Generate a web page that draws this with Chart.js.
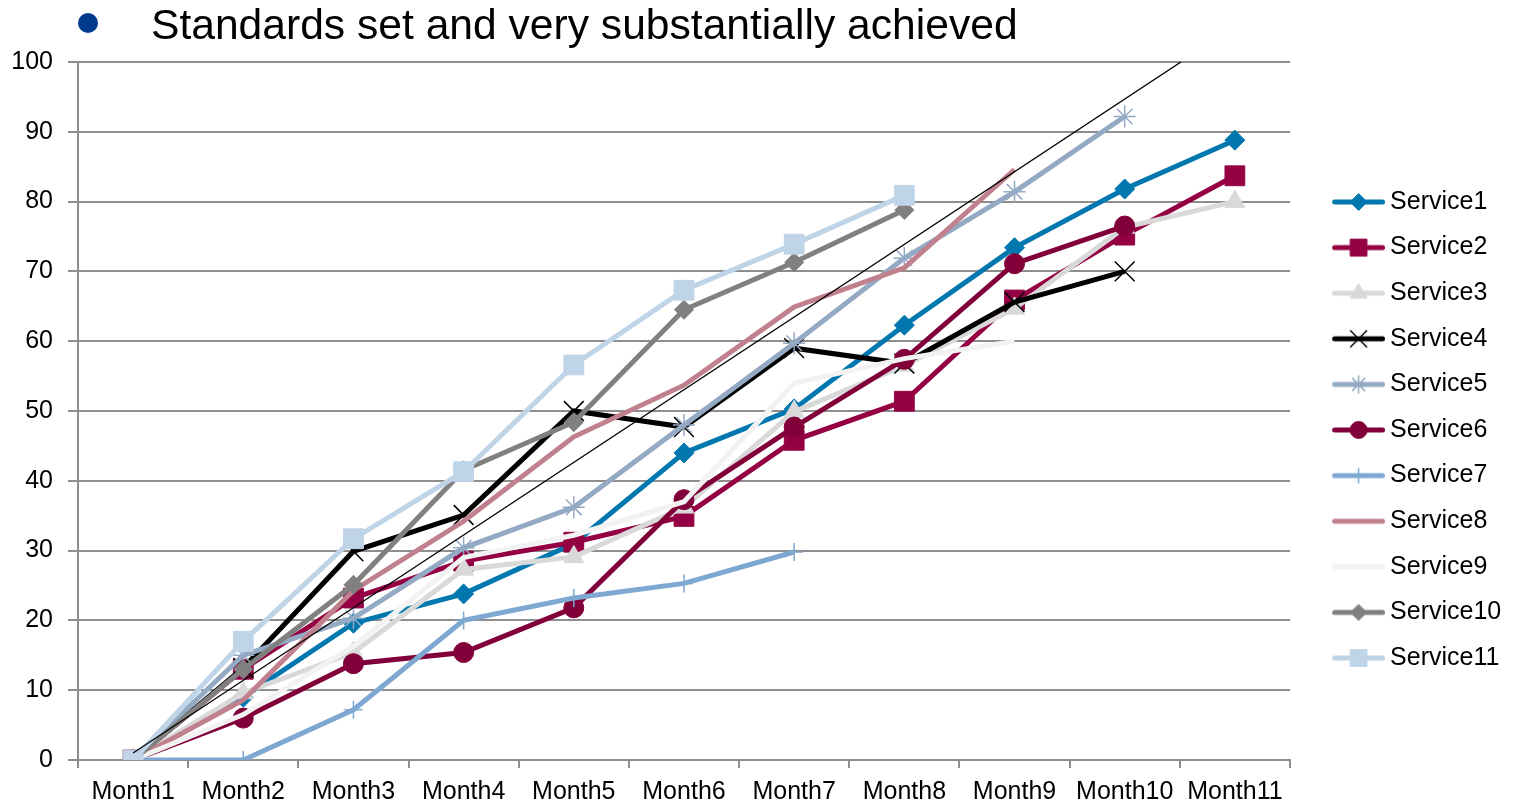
<!DOCTYPE html>
<html>
<head>
<meta charset="utf-8">
<script src="https://cdn.jsdelivr.net/npm/chart.js@4.4.1/dist/chart.umd.min.js"></script>
<style>
  html, body { margin: 0; padding: 0; background: #ffffff; width: 1520px; height: 805px; overflow: hidden; }
  #wrap { position: relative; width: 1520px; height: 805px; }
  #chart { position: absolute; left: 0; top: 0; }
  #heading { position: absolute; left: 0; top: 0; width: 1520px; height: 50px;
             font: 42.6px/43px "Liberation Sans", Arial, sans-serif; color: #000; white-space: nowrap; }
  #heading .dot { position: absolute; left: 78px; top: 13px; width: 20px; height: 20px; border-radius: 50%; background: #003A8C; }
  #heading .txt { position: absolute; left: 151px; top: 3px; }
</style>
</head>
<body>
<div id="wrap">
  <canvas id="chart" width="1520" height="805"></canvas>
  <div id="heading"><span class="dot"></span><span class="txt">Standards set and very substantially achieved</span></div>
</div>
<script>
// Categories
const months = ['Month1', 'Month2', 'Month3', 'Month4', 'Month5', 'Month6',
                'Month7', 'Month8', 'Month9', 'Month10', 'Month11'];
const yTicks = [0, 10, 20, 30, 40, 50, 60, 70, 80, 90, 100];

// Cumulative progress per service
const service1  = [0, 9,   19.6, 23.8, 31,   44,   50.3, 62.3, 73.4, 81.8, 88.8];
const service2  = [0, 13,  23.2, 28.5, 31.2, 34.9, 45.8, 51.4, 65.9, 75.2, 83.7];
const service3  = [0, 9.6, 15.4, 27.3, 29.1, 36.2, 49.9, 56.5, 64.7, 76.3, 80];
const service4  = [0, 13.2, 29.9, 35.1, 50,  47.7, 59,   56.8, 65.6, 70,   null];
const service5  = [0, 15,  20.3, 30.4, 36.2, 48,   59.7, 71.9, 81.4, 92.2, null];
const service6  = [0, 6,   13.8, 15.4, 21.8, 37.3, 47.7, 57.4, 71.1, 76.5, null];
const service7  = [0, 0,   7.2,  20,   23.2, 25.3, 29.8, null, null, null, null];
const service8  = [0, 8.6, 24.3, 34.2, 46.3, 53.7, 64.9, 70.5, 84.6, null, null];
const service9  = [0, 6.5, 16.3, 29,   32.2, 37,   54,   57.5, 60,   null, null];
const service10 = [0, 13,  25.1, 41.5, 48.4, 64.5, 71.3, 78.8, null, null, null];
const service11 = [0, 17,  31.7, 41.3, 56.6, 67.3, 73.9, 80.9, null, null, null];

// Straight guide line: its start at Month1 and end at Month11
const trendStart = 1;
const trendEnd = 105.1;

const seriesNames  = ['Service1', 'Service2', 'Service3', 'Service4', 'Service5', 'Service6',
                      'Service7', 'Service8', 'Service9', 'Service10', 'Service11'];
const seriesValues = [service1, service2, service3, service4, service5, service6,
                      service7, service8, service9, service10, service11];

// Appearance of each series
const seriesColors = ['#0077AE', '#940043', '#D9D9D9', '#000000', '#94A9C4', '#82003A',
                      '#7EA8D2', '#C0808E', '#F2F2F2', '#808080', '#C0D4E8'];
const markerStyles = ['rectRot', 'rect', 'triangle', 'crossRot', 'star', 'circle',
                      'cross', false, false, 'rectRot', 'rect'];
const markerSizes  = [10, 14, 11.5, 14, 11, 10, 9, 0, 0, 9.5, 14];
const strokeMarkers = ['crossRot', 'star', 'cross'];
const LINE_W = 5;

const FONT = '"Liberation Sans", Arial, sans-serif';
Chart.defaults.font.family = FONT;
Chart.defaults.color = '#000000';

// Legend swatch: a short line with the series marker in the middle
function legendSwatch(color, style, radius) {
  const c = document.createElement('canvas');
  c.width = 82; c.height = 30;
  const g = c.getContext('2d');
  g.strokeStyle = color;
  g.fillStyle = color;
  g.lineWidth = LINE_W;
  g.lineCap = 'round';
  g.beginPath();
  g.moveTo(31.5, 15);
  g.lineTo(79.5, 15);
  g.stroke();
  if (style && Chart.helpers && Chart.helpers.drawPoint) {
    const bw = strokeMarkers.includes(style) ? 1.5 : 1;
    g.lineWidth = bw;
    g.lineCap = 'butt';
    Chart.helpers.drawPoint(g, { pointStyle: style, radius: radius * 0.85, borderWidth: bw, rotation: 0 }, 55.5, 15);
  }
  return c;
}

const datasets = seriesNames.map((name, i) => {
  const style = markerStyles[i];
  const isStroke = strokeMarkers.includes(style);
  return {
    label: name,
    data: seriesValues[i],
    borderColor: seriesColors[i],
    backgroundColor: seriesColors[i],
    borderWidth: LINE_W,
    pointStyle: style || 'circle',
    pointRadius: style ? markerSizes[i] : 0,
    pointHoverRadius: style ? markerSizes[i] : 0,
    pointBackgroundColor: seriesColors[i],
    pointBorderColor: seriesColors[i],
    pointBorderWidth: isStroke ? 1.5 : 1,
    tension: 0,
    fill: false,
    spanGaps: false,
    order: seriesNames.length - i
  };
});

const trendData = months.map((m, i) => i === 0 ? trendStart : (i === months.length - 1 ? trendEnd : null));
datasets.push({
  label: 'trend',
  data: trendData,
  borderColor: '#000000',
  borderWidth: 1.3,
  pointRadius: 0,
  pointHoverRadius: 0,
  spanGaps: true,
  fill: false,
  order: 0
});

const swatches = seriesNames.map((n, i) => legendSwatch(seriesColors[i], markerStyles[i], markerSizes[i]));

new Chart(document.getElementById('chart'), {
  type: 'line',
  data: { labels: months, datasets: datasets },
  options: {
    responsive: false,
    animation: false,
    events: [],
    layout: { padding: { top: 62, left: 11, right: 8.75, bottom: 0 } },
    scales: {
      x: {
        type: 'category',
        offset: true,
        afterFit: (scale) => { scale.height = 45; },
        grid: { display: true, drawOnChartArea: false, offset: true, tickLength: 8, color: '#8E8E8E', lineWidth: 2 },
        border: { display: true, color: '#8E8E8E', width: 2 },
        ticks: { autoSkip: false, maxRotation: 0, minRotation: 0, padding: 9, font: { size: 25 }, color: '#000000' }
      },
      y: {
        min: 0,
        max: 100,
        afterBuildTicks: (scale) => { scale.ticks = yTicks.map(v => ({ value: v })); },
        afterFit: (scale) => { scale.width = 67; },
        grid: { color: '#8E8E8E', lineWidth: 2, tickLength: 10, drawTicks: true },
        border: { display: true, color: '#8E8E8E', width: 2 },
        ticks: { padding: 15, font: { size: 25 }, color: '#000000' }
      }
    },
    plugins: {
      tooltip: { enabled: false },
      title: { display: false },
      legend: {
        display: true,
        position: 'right',
        align: 'start',
        title: { display: true, text: '', font: { size: 10, lineHeight: 1 }, padding: { top: 96.9, bottom: 0 } },
        labels: {
          usePointStyle: true,
          pointStyleWidth: 67,
          padding: 20.6,
          color: '#000000',
          font: { size: 25 },
          filter: (item) => item.datasetIndex < seriesNames.length,
          sort: (a, b) => a.datasetIndex - b.datasetIndex,
          generateLabels: (chart) => {
            const items = Chart.defaults.plugins.legend.labels.generateLabels(chart);
            items.forEach((it) => {
              if (it.datasetIndex < swatches.length) {
                it.pointStyle = swatches[it.datasetIndex];
                it.rotation = 0;
              }
            });
            return items;
          }
        }
      }
    }
  }
});
</script>
</body>
</html>
